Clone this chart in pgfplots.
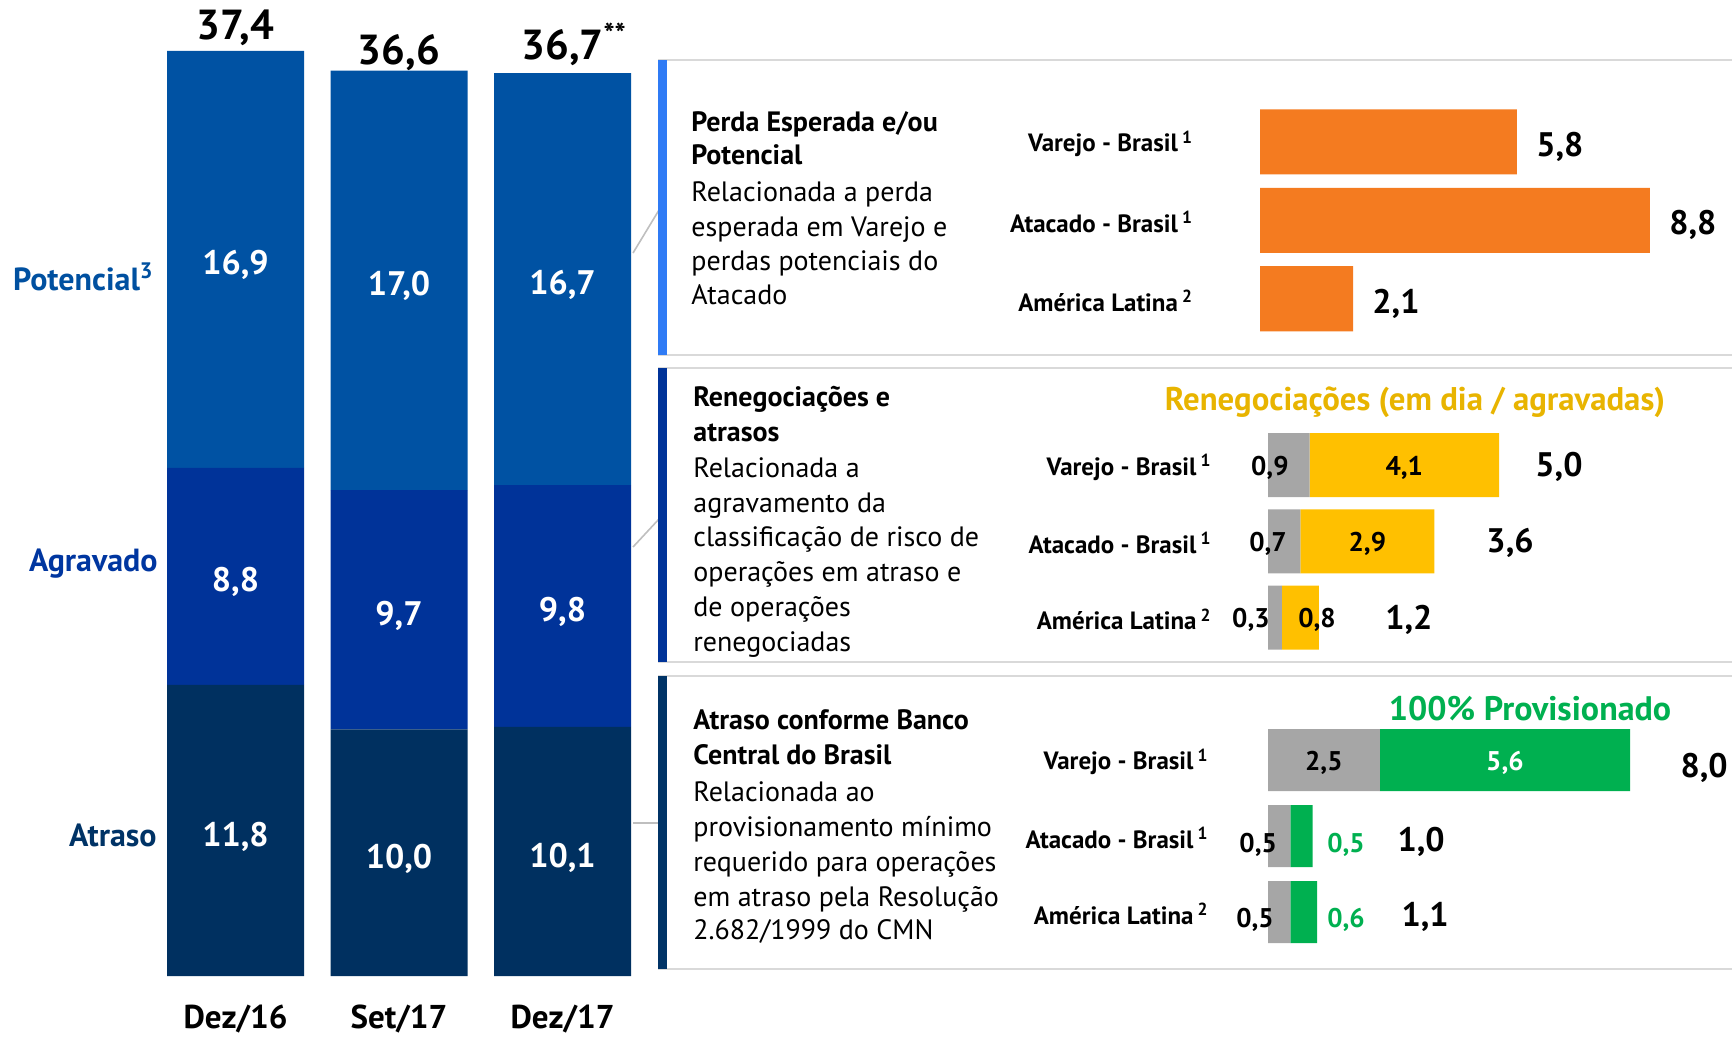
\documentclass[border=0pt]{standalone}
\usepackage{pgfplots}
\pgfplotsset{compat=1.18}
\usepackage{fontspec}
\setmainfont{PT Sans}
\definecolor{cPot}{HTML}{0052A3}
\definecolor{cAgr}{HTML}{003399}
\definecolor{cAtr}{HTML}{003060}
\definecolor{cPotT}{HTML}{0050A0}
\definecolor{cAgrT}{HTML}{0036A0}
\definecolor{cAtrT}{HTML}{003366}
\definecolor{cAcc1}{HTML}{2F7BF5}
\definecolor{cAcc2}{HTML}{003399}
\definecolor{cAcc3}{HTML}{003366}
\definecolor{cOrange}{HTML}{F47B20}
\definecolor{cGray}{HTML}{A6A6A6}
\definecolor{cYellow}{HTML}{FFC000}
\definecolor{cGold}{HTML}{E8B400}
\definecolor{cGreen}{HTML}{00B050}
\definecolor{cLine}{HTML}{D9D9D9}
\definecolor{cConn}{HTML}{BFBFBF}
\newcommand{\myfs}[2]{\fontsize{#1}{#2}\selectfont}
\tikzset{
  segl/.style={font=\myfs{17}{20}\bfseries, text=white, yshift=-3pt},
  totl/.style={font=\myfs{21}{24}\bfseries, text=black},
  inl/.style={font=\myfs{13.5}{15}\bfseries, yshift=-1.2pt},
  vall/.style={font=\myfs{17}{20}\bfseries, text=black, anchor=west, inner sep=0pt},
  ptxt/.style={anchor=base west, inner sep=0pt, font=\myfs{14}{17}},
  ptit/.style={anchor=base west, inner sep=0pt, font=\myfs{14}{17}\bfseries},
}
\begin{document}
\begin{tikzpicture}[x=0.5pt,y=-0.5pt]
\path[use as bounding box] (0,0) rectangle (1732,1038);

% ---------------- left stacked bars ----------------
\begin{axis}[
  at={(76.875pt,-488pt)}, anchor=south west,
  scale only axis, width=245.25pt, height=481.05pt,
  xmin=-0.5, xmax=2.5, ymin=0, ymax=39,
  ybar stacked, bar width=68.5pt,
  axis line style={draw=none}, tick style={draw=none},
  ytick=\empty, xtick={0,1,2}, xticklabels={Dez/16,Set/17,Dez/17},
  xticklabel style={anchor=center, yshift=-21.5pt, font=\myfs{16.5}{19}\bfseries},
  clip=false,
]
\addplot[fill=cAtr, draw=none] coordinates {(0,11.8) (1,10.0) (2,10.1)};
\addplot[fill=cAgr, draw=none] coordinates {(0,8.8) (1,9.7) (2,9.8)};
\addplot[fill=cPot, draw=none] coordinates {(0,16.9) (1,17.0) (2,16.7)};
\coordinate (L00) at (axis cs:0,5.9);
\coordinate (L10) at (axis cs:1,5.0);
\coordinate (L20) at (axis cs:2,5.05);
\coordinate (L01) at (axis cs:0,16.2);
\coordinate (L11) at (axis cs:1,14.85);
\coordinate (L21) at (axis cs:2,15.0);
\coordinate (L02) at (axis cs:0,29.05);
\coordinate (L12) at (axis cs:1,28.2);
\coordinate (L22) at (axis cs:2,28.25);
\node[totl, yshift=13pt] at (axis cs:0,37.4) {37,4};
\node[totl, yshift=10pt] at (axis cs:1,36.6) {36,6};
\node[totl, yshift=13pt] at (axis cs:2,36.7) {36,7\rlap{\textsuperscript{**}}};
\end{axis}
\node[segl] at (L00) {11,8};
\node[segl] at (L10) {10,0};
\node[segl] at (L20) {10,1};
\node[segl] at (L01) {8,8};
\node[segl] at (L11) {9,7};
\node[segl] at (L21) {9,8};
\node[segl] at (L02) {16,9};
\node[segl] at (L12) {17,0};
\node[segl] at (L22) {16,7};

% left category labels
\node[anchor=east, inner sep=0pt, font=\myfs{16}{19}\bfseries, text=cPotT] at (154,277) {Potencial\textsuperscript{3}};
\node[anchor=east, inner sep=0pt, font=\myfs{16}{19}\bfseries, text=cAgrT] at (158,564) {Agravado};
\node[anchor=east, inner sep=0pt, font=\myfs{16}{19}\bfseries, text=cAtrT] at (157,835) {Atraso};

% connectors
\draw[cConn, line width=0.8pt] (633,253) -- (659,210);
\draw[cConn, line width=0.8pt] (633,547) -- (659,519);
\draw[cConn, line width=0.8pt] (633,823) -- (659,823);

% panel frames
\draw[cLine, line width=1pt] (658,60) -- (1732,60);
\draw[cLine, line width=1pt] (658,355) -- (1732,355);
\draw[cLine, line width=1pt] (658,368) -- (1732,368);
\draw[cLine, line width=1pt] (658,662) -- (1732,662);
\draw[cLine, line width=1pt] (658,676) -- (1732,676);
\draw[cLine, line width=1pt] (658,969) -- (1732,969);
\fill[cAcc1] (658,60) rectangle (667,355);
\fill[cAcc2] (658,368) rectangle (667,662);
\fill[cAcc3] (658,676) rectangle (667,969);

% panel texts
\node[ptit] at (691,131) {Perda Esperada e/ou};
\node[ptit] at (691,164) {Potencial};
\node[ptxt] at (691,201) {Relacionada a perda};
\node[ptxt] at (691,236) {esperada em Varejo e};
\node[ptxt] at (691,270) {perdas potenciais do};
\node[ptxt] at (691,304) {Atacado};

\node[ptit] at (693,406) {Renegociações e};
\node[ptit] at (693,441) {atrasos};
\node[ptxt] at (693,477) {Relacionada a};
\node[ptxt] at (693,512) {agravamento da};
\node[ptxt] at (693,546) {classificação de risco de};
\node[ptxt] at (693,581) {operações em atraso e};
\node[ptxt] at (693,616) {de operações};
\node[ptxt] at (693,651) {renegociadas};

\node[ptit] at (693,729) {Atraso conforme Banco};
\node[ptit] at (693,764) {Central do Brasil};
\node[ptxt] at (693,801) {Relacionada ao};
\node[ptxt] at (693,836) {provisionamento mínimo};
\node[ptxt] at (693,871) {requerido para operações};
\node[ptxt] at (693,906) {em atraso pela Resolução};
\node[ptxt] at (693,939) {2.682/1999 do CMN};

% headers
\node[font=\myfs{16.4}{19}\bfseries, text=cGold] at (1415,402) {Renegociações (em dia / agravadas)};
\node[font=\myfs{17}{20}\bfseries, text=cGreen] at (1530,709) {100\% Provisionado};

% ---------------- panel 1 ----------------
\begin{axis}[
  at={(630pt,-51.25pt)}, anchor=north west,
  scale only axis, width=221.5pt, height=117.75pt,
  xmin=0, xmax=10, ymin=-0.5, ymax=2.5, y dir=reverse,
  xbar, bar width=32.5pt,
  axis line style={draw=none}, tick style={draw=none},
  xtick=\empty, ytick={0,1,2},
  yticklabels={Varejo - Brasil\,\textsuperscript{1},Atacado - Brasil\,\textsuperscript{1},América Latina\,\textsuperscript{2}},
  yticklabel style={anchor=east, inner sep=0pt, xshift=-29pt, yshift=-1pt, font=\myfs{12.5}{15}\bfseries},
  nodes near coords,
  every node near coord/.append style={anchor=west, inner sep=0pt, xshift=9.5pt, yshift=-2.5pt, font=\myfs{17}{20}\bfseries, text=black},
  /pgf/number format/use comma, /pgf/number format/fixed, /pgf/number format/fixed zerofill,
  /pgf/number format/precision=1, /pgf/number format/assume math mode=true,
  clip=false,
]
\addplot[fill=cOrange, draw=none] coordinates {(5.8,0) (8.8,1) (2.1,2)};
\end{axis}

% ---------------- panel 2 ----------------
\begin{axis}[
  at={(634pt,-213.45pt)}, anchor=north west,
  scale only axis, width=184.8pt, height=114.375pt,
  xmin=0, xmax=8, ymin=-0.5, ymax=2.5, y dir=reverse,
  xbar stacked, bar width=32pt,
  axis line style={draw=none}, tick style={draw=none},
  xtick=\empty, ytick={0,1,2},
  yticklabels={Varejo - Brasil\,\textsuperscript{1},Atacado - Brasil\,\textsuperscript{1},América Latina\,\textsuperscript{2}},
  yticklabel style={anchor=east, inner sep=0pt, xshift=-28pt, yshift=-1pt, font=\myfs{12.5}{15}\bfseries},
  clip=false,
]
\addplot[fill=cGray, draw=none] coordinates {(0.9,0) (0.7,1) (0.3,2)};
\addplot[fill=cYellow, draw=none] coordinates {(4.1,0) (2.9,1) (0.8,2)};
\coordinate (P2a) at (axis cs:0.04,0);
\coordinate (P2b) at (axis cs:2.95,0);
\coordinate (P2c) at (axis cs:0,1);
\coordinate (P2d) at (axis cs:2.15,1);
\coordinate (P2e) at (axis cs:-0.37,2);
\coordinate (P2f) at (axis cs:1.06,2);
\coordinate (P2g) at (axis cs:5.78,0);
\coordinate (P2h) at (axis cs:4.72,1);
\coordinate (P2i) at (axis cs:2.53,2);
\end{axis}
\node[inl] at (P2a) {0,9};
\node[inl] at (P2b) {4,1};
\node[inl] at (P2c) {0,7};
\node[inl] at (P2d) {2,9};
\node[inl] at (P2e) {0,3};
\node[inl] at (P2f) {0,8};
\node[vall, yshift=-1pt] at (P2g) {5,0};
\node[vall, yshift=-1pt] at (P2h) {3,6};
\node[vall, yshift=-1pt] at (P2i) {1,2};

% ---------------- panel 3 ----------------
\begin{axis}[
  at={(634pt,-361pt)}, anchor=north west,
  scale only axis, width=223.5pt, height=114pt,
  xmin=0, xmax=10, ymin=-0.5, ymax=2.5, y dir=reverse,
  xbar stacked, bar width=31pt,
  axis line style={draw=none}, tick style={draw=none},
  xtick=\empty, ytick={0,1,2},
  yticklabels={Varejo - Brasil\,\textsuperscript{1},Atacado - Brasil\,\textsuperscript{1},América Latina\,\textsuperscript{2}},
  yticklabel style={anchor=east, inner sep=0pt, xshift=-29.5pt, yshift=-1pt, font=\myfs{12.5}{15}\bfseries},
  clip=false,
]
\addplot[fill=cGray, draw=none] coordinates {(2.5,0) (0.5,1) (0.5,2)};
\addplot[fill=cGreen, draw=none] coordinates {(5.6,0) (0.5,1) (0.6,2)};
\coordinate (P3a) at (axis cs:1.25,0);
\coordinate (P3b) at (axis cs:5.3,0);
\coordinate (P3c) at (axis cs:-0.22,1.08);
\coordinate (P3d) at (axis cs:1.745,1.08);
\coordinate (P3e) at (axis cs:-0.29,2.07);
\coordinate (P3f) at (axis cs:1.745,2.07);
\coordinate (P3g) at (axis cs:9.22,0.1);
\coordinate (P3h) at (axis cs:2.89,1.08);
\coordinate (P3i) at (axis cs:2.98,2.07);
\end{axis}
\node[inl, text=black] at (P3a) {2,5};
\node[inl, text=white] at (P3b) {5,6};
\node[inl, text=black] at (P3c) {0,5};
\node[inl, text=cGreen] at (P3d) {0,5};
\node[inl, text=black] at (P3e) {0,5};
\node[inl, text=cGreen] at (P3f) {0,6};
\node[vall] at (P3g) {8,0};
\node[vall] at (P3h) {1,0};
\node[vall] at (P3i) {1,1};
\end{tikzpicture}
\end{document}
